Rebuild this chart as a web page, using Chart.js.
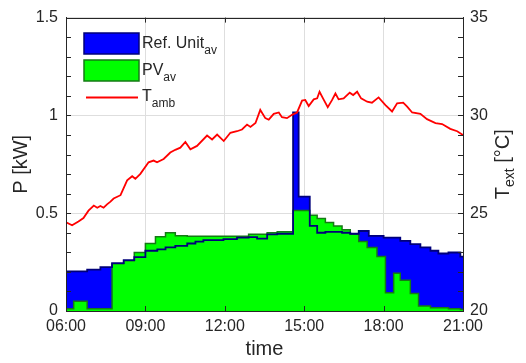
<!DOCTYPE html>
<html><head><meta charset="utf-8">
<script src="https://cdn.jsdelivr.net/npm/chart.js@4.4.1/dist/chart.umd.min.js"></script>
<style>html,body{margin:0;padding:0;background:#fff;}#wrap{width:526px;height:363px;position:relative;}</style>
</head><body>
<div id="wrap"><canvas id="c" width="526" height="363"></canvas></div>
<script>
// ---- data ----
const xTickHours = [6, 9, 12, 15, 18, 21];
const leftTicks = [0, 0.5, 1, 1.5];
const rightTicks = [20, 25, 30, 35];

const refTimes = [6, 6.80, 7.30, 7.74, 8.18, 8.58, 9.00, 9.45, 9.76, 10.13, 10.58, 10.89, 11.19, 11.95, 12.46, 12.90, 13.22, 13.60, 13.98, 14.58, 14.79, 15.21, 15.49, 15.80, 16.11, 16.43, 16.74, 17.06, 17.44, 18.00, 18.63, 19.01, 19.39, 19.77, 20.07, 20.45, 20.90, 21];
const refValues = [0.203, 0.212, 0.224, 0.245, 0.26, 0.275, 0.308, 0.315, 0.325, 0.333, 0.345, 0.355, 0.362, 0.367, 0.375, 0.378, 0.37, 0.392, 0.395, 1.015, 0.585, 0.435, 0.40, 0.405, 0.405, 0.40, 0.395, 0.409, 0.384, 0.375, 0.359, 0.342, 0.325, 0.308, 0.294, 0.299, 0.278, 0.278];

const pvTimes = [6, 6.29, 6.80, 7.74, 8.18, 8.58, 9.00, 9.38, 9.76, 10.13, 10.58, 12.90, 13.60, 13.98, 14.58, 15.21, 15.49, 15.80, 16.11, 16.43, 16.74, 17.06, 17.38, 17.75, 18.07, 18.38, 18.63, 19.01, 19.32, 19.77, 20.45, 20.90, 21];
const pvValues = [0.012, 0.05, 0.012, 0.241, 0.257, 0.299, 0.345, 0.379, 0.40, 0.385, 0.382, 0.392, 0.40, 0.405, 0.514, 0.49, 0.473, 0.453, 0.434, 0.415, 0.392, 0.355, 0.325, 0.278, 0.093, 0.193, 0.157, 0.089, 0.025, 0.017, 0.011, 0.008, 0.008];

const tempTimes = [6.00, 6.23, 6.47, 6.66, 6.85, 7.05, 7.18, 7.30, 7.42, 7.55,
  7.68, 7.80, 8.06, 8.31, 8.50, 8.62, 8.81, 9.12, 9.31, 9.44,
  9.69, 9.94, 10.13, 10.32, 10.51, 10.70, 10.95, 11.33, 11.52, 11.71,
  11.96, 12.21, 12.46, 12.65, 12.84, 12.97, 13.16, 13.34, 13.53, 13.66,
  13.85, 14.04, 14.16, 14.35, 14.54, 14.73, 14.92, 15.04, 15.17, 15.36,
  15.49, 15.58, 15.71, 15.89, 16.05, 16.18, 16.30, 16.49, 16.72, 16.85,
  17.00, 17.15, 17.38, 17.56, 17.81, 18.07, 18.32, 18.51, 18.74, 18.89,
  19.08, 19.39, 19.64, 19.96, 20.21, 20.52, 20.78, 21.00];
const tempValues = [24.54, 24.38, 24.58, 24.75, 25.13, 25.39, 25.28, 25.37, 25.28, 25.45,
  25.59, 25.75, 25.92, 26.68, 26.89, 26.76, 27.01, 27.60, 27.69, 27.60,
  27.77, 28.10, 28.24, 28.35, 28.64, 28.27, 28.44, 28.97, 28.77, 29.02,
  28.69, 29.11, 29.19, 29.28, 29.53, 29.41, 29.61, 30.28, 29.86, 29.78,
  30.08, 30.15, 29.91, 29.86, 30.03, 30.15, 30.76, 30.79, 30.48, 30.82,
  30.87, 31.21, 30.87, 30.42, 30.78, 31.12, 30.82, 30.87, 31.16, 31.04,
  31.21, 30.87, 30.70, 30.65, 30.92, 30.53, 30.20, 30.62, 30.65, 30.45,
  30.15, 30.08, 29.81, 29.61, 29.56, 29.31, 29.19, 29.00];

const seriesNames = ['Ref. Unit', 'PV', 'T'];
const seriesSubs = ['av', 'av', 'amb'];
// ---------------------------------------

const pts = (ts, vs) => ts.map((t, i) => ({x: t, y: vs[i]}));
const TXT = '#262626';
const FONT = '"Liberation Sans", Arial, Helvetica, sans-serif';
const BLUE = '#0000ff', NAVY = '#00007a', LIME = '#00ff00', DGREEN = '#157a15', RED = '#ff0000';

const decor = {
  id: 'decor',
  afterDraw(chart) {
    const {ctx, chartArea: a, scales} = chart;
    ctx.save();
    ctx.strokeStyle = TXT; ctx.lineWidth = 1;
    const ln = (x1, y1, x2, y2) => { ctx.beginPath(); ctx.moveTo(x1, y1); ctx.lineTo(x2, y2); ctx.stroke(); };
    ctx.strokeRect(Math.round(a.left) + 0.5, Math.round(a.top) + 0.5, Math.round(a.right - a.left), Math.round(a.bottom - a.top));
    for (let k = 0; k <= 15; k++) {
      const y = Math.round(scales.y.getPixelForValue(k / 10)) + 0.5;
      ln(a.left, y, a.left + 5, y);
    }
    for (let t = 20; t <= 35; t++) {
      const y = Math.round(scales.y2.getPixelForValue(t)) + 0.5;
      ln(a.right - 5, y, a.right, y);
    }
    for (const h of xTickHours) {
      const x = Math.round(scales.x.getPixelForValue(h)) + 0.5;
      ln(x, a.bottom, x, a.bottom - 5);
      ln(x, a.top, x, a.top + 5);
    }
    ctx.fillStyle = TXT;
    ctx.textBaseline = 'middle';
    ctx.textAlign = 'center';
    ctx.font = '20px ' + FONT;
    const cy = (a.top + a.bottom) / 2;
    ctx.fillText('time', (a.left + a.right) / 2, 349);
    ctx.save(); ctx.translate(21, cy); ctx.rotate(-Math.PI / 2); ctx.fillText('P [kW]', 0, 0); ctx.restore();
    ctx.save(); ctx.translate(503, cy); ctx.rotate(-Math.PI / 2);
    ctx.textAlign = 'left';
    ctx.font = '20px ' + FONT; const w1 = ctx.measureText('T').width; const w3 = ctx.measureText(' [°C]').width;
    ctx.font = '14px ' + FONT; const w2 = ctx.measureText('ext').width;
    let x0 = -(w1 + w2 + w3) / 2;
    ctx.font = '20px ' + FONT; ctx.fillText('T', x0, 0);
    ctx.font = '14px ' + FONT; ctx.fillText('ext', x0 + w1, 7);
    ctx.font = '20px ' + FONT; ctx.fillText(' [°C]', x0 + w1 + w2, 0);
    ctx.restore();
    ctx.textAlign = 'left'; ctx.textBaseline = 'alphabetic';
    ctx.fillStyle = BLUE; ctx.fillRect(84, 33, 55, 21);
    ctx.strokeStyle = NAVY; ctx.lineWidth = 1.5; ctx.strokeRect(84, 33, 55, 21);
    ctx.fillStyle = LIME; ctx.fillRect(84, 60, 55, 21);
    ctx.strokeStyle = DGREEN; ctx.strokeRect(84, 60, 55, 21);
    ctx.strokeStyle = RED; ctx.lineWidth = 2; ln(86, 97.5, 138, 97.5);
    const bases = [48, 75, 101];
    ctx.fillStyle = TXT;
    seriesNames.forEach((n, i) => {
      ctx.font = '16px ' + FONT;
      ctx.fillText(n, 142, bases[i]);
      const w = ctx.measureText(n).width;
      ctx.font = '12px ' + FONT;
      ctx.fillText(seriesSubs[i], 142 + w, bases[i] + 6);
    });
    ctx.restore();
  }
};

new Chart(document.getElementById('c'), {
  type: 'line',
  data: {
    datasets: [
      {label: 'Tamb', data: pts(tempTimes, tempValues), yAxisID: 'y2', borderColor: RED, borderWidth: 1.8, pointRadius: 0, fill: false, tension: 0, order: 0},
      {label: 'RefEdge', data: pts(refTimes, refValues), yAxisID: 'y', stepped: 'before', borderColor: NAVY, borderWidth: 1.8, pointRadius: 0, fill: false, order: 1},
      {label: 'PVav', data: pts(pvTimes, pvValues), yAxisID: 'y', stepped: 'before', borderColor: DGREEN, borderWidth: 1.5, backgroundColor: LIME, pointRadius: 0, fill: 'origin', order: 2},
      {label: 'RefFill', data: pts(refTimes, refValues), yAxisID: 'y', stepped: 'before', borderWidth: 0, borderColor: 'rgba(0,0,0,0)', backgroundColor: BLUE, pointRadius: 0, fill: 'origin', order: 3}
    ]
  },
  options: {
    responsive: false,
    animation: false,
    devicePixelRatio: 1,
    layout: {padding: {top: 13, left: 0, right: 0, bottom: 0}},
    plugins: {legend: {display: false}, tooltip: {enabled: false}},
    scales: {
      x: {
        type: 'linear', min: 6, max: 21,
        afterBuildTicks: s => { s.ticks = xTickHours.map(v => ({value: v})); },
        afterFit: s => { s.height = 52; },
        ticks: {color: TXT, font: {size: 16, family: FONT}, padding: 6, maxRotation: 0,
          callback: v => (v < 10 ? '0' : '') + v + ':00'},
        grid: {color: '#dedede', drawTicks: false},
        border: {color: TXT}
      },
      y: {
        position: 'left', min: 0, max: 1.5,
        afterBuildTicks: s => { s.ticks = leftTicks.map(v => ({value: v})); },
        afterFit: s => { s.width = 66; },
        ticks: {color: TXT, font: {size: 16, family: FONT}, padding: 8, callback: v => String(v)},
        grid: {color: '#dedede', drawTicks: false},
        border: {color: TXT}
      },
      y2: {
        position: 'right', min: 20, max: 35,
        afterBuildTicks: s => { s.ticks = rightTicks.map(v => ({value: v})); },
        afterFit: s => { s.width = 63; },
        ticks: {color: TXT, font: {size: 16, family: FONT}, padding: 7, callback: v => String(v)},
        grid: {display: false, drawTicks: false},
        border: {color: TXT}
      }
    }
  },
  plugins: [decor]
});
</script>
</body></html>
